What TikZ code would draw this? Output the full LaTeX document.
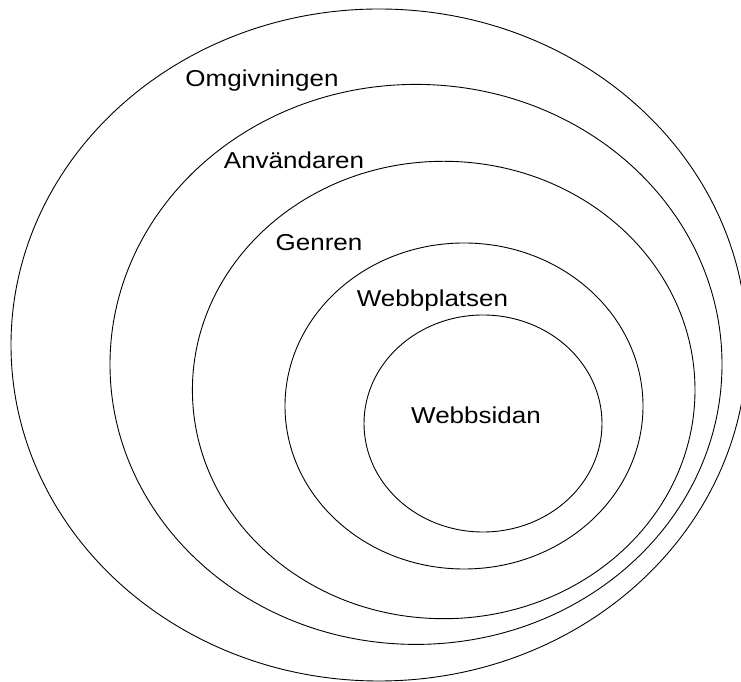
\documentclass[tikz,border=0pt]{standalone}
\usepackage{fontspec}
\setmainfont{Liberation Sans}
\usetikzlibrary{
  positioning,
  shapes.geometric,
}
\tikzstyle{ring} = [
  ellipse,
  draw=black,
  line width=0.9pt,
  inner sep=0pt,
]
\tikzstyle{label} = [
  anchor=base,
  inner sep=0pt,
  xscale=1.13,
  transform shape,
  font=\fontsize{23}{28}\selectfont,
]

\begin{document}
\begin{tikzpicture}[x=1pt, y=1pt]

        \useasboundingbox (0,0) rectangle (741,682);

        \node [ring, minimum width=736pt, minimum height=672pt] (omg) at (379,337) {};

        \node [ring, minimum width=612pt, minimum height=560pt] (anv) at (416,317.6) {};

        \node [ring, minimum width=502.6pt, minimum height=457.4pt] (gen) at (443.7,292) {};

        \node [ring, minimum width=358pt, minimum height=326pt] (wpl) at (464,276) {};

        \node [ring, minimum width=238pt, minimum height=217pt] (wsd) at (483,258.5) {};

        \node [label] (omgtxt) at (262,595.3) {Omgivningen};

        \node [label] (anvtxt) at (294,513) {Användaren};

        \node [label] (gentxt) at (319,431) {Genren};

        \node [label] (wpltxt) at (432.5,375.5) {Webbplatsen};

        \node [label] (wsdtxt) at (476,258) {Webbsidan};
      \end{tikzpicture}
\end{document}
